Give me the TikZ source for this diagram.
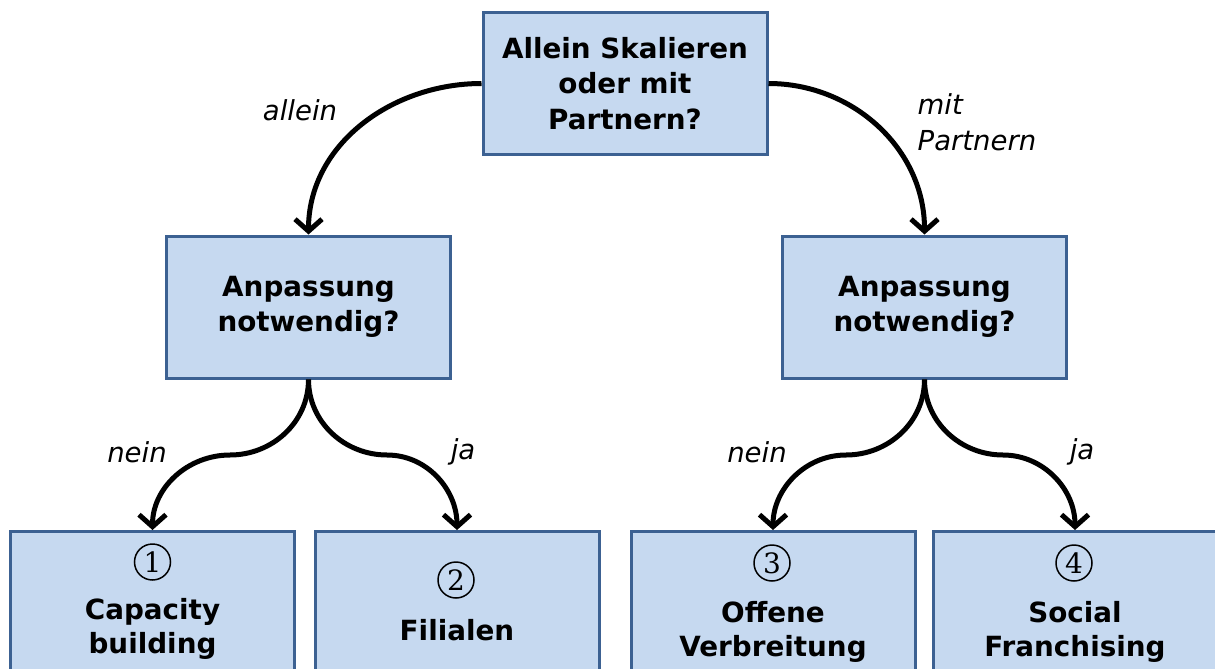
\documentclass[tikz,border=0pt]{standalone}
\usepackage{fontspec}
\setmainfont{DejaVu Sans}
\newfontfamily\numfont{DejaVu Serif}
\usetikzlibrary{arrows.meta}
\definecolor{boxfill}{RGB}{198,217,240}
\definecolor{boxborder}{RGB}{60,97,146}
\begin{document}
\begin{tikzpicture}[x=1pt,y=-1pt,
  box/.style={draw=boxborder, fill=boxfill, line width=3pt, minimum width=284pt, minimum height=142pt, align=center, inner sep=0pt, font=\bfseries\fontsize{27.8}{35.5}\selectfont},
  bottombox/.style={box, minimum height=200pt},
  btext/.style={align=center, font=\bfseries\fontsize{27.8}{34.5}\selectfont},
  lbl/.style={align=left, font=\itshape\fontsize{27.5}{36}\selectfont},
  cnum/.style={circle, draw, line width=1.5pt, minimum size=36pt, inner sep=0pt, font=\numfont\fontsize{28}{28}\selectfont},
  conn/.style={line width=5pt, -{Straight Barb[length=12pt,width=27pt]}}
]
\useasboundingbox (0,0) rectangle (1215,669);
\clip (0,0) rectangle (1215,669);
\node[box] (top) at (625,83.5) {Allein Skalieren\\oder mit\\Partnern?};
\node[box] (ml) at (308.5,307) {Anpassung\\notwendig?};
\node[box] (mr) at (924.5,307) {Anpassung\\notwendig?};
\node[bottombox, anchor=north] (b1) at (152.5,530) {};
\node[bottombox, anchor=north] (b2) at (457,530) {};
\node[bottombox, anchor=north] (b3) at (773,530) {};
\node[bottombox, anchor=north] (b4) at (1075,530) {};
\node[cnum] (n1) at (152.5,562) {1};
\node[cnum] (n2) at (456,580) {2};
\node[cnum] (n3) at (772,563) {3};
\node[cnum] (n4) at (1074,563) {4};
\node[btext] (t1) at (152.5,629) {Capacity\\building};
\node[btext] (t2) at (457,630) {Filialen};
\node[btext] (t3) at (773,632) {Offene\\Verbreitung};
\node[btext] (t4) at (1075,632) {Social\\Franchising};
\coordinate (sl1) at (230,455);
\coordinate (sl2) at (387,455);
\coordinate (sr1) at (846,455);
\coordinate (sr2) at (1003,455);
\draw[conn] (top.west) to[out=180,in=90] (ml.north);
\draw[conn] (top.east) to[out=0,in=90] (mr.north);
\draw[conn] (ml.south) to[out=270,in=0] (sl1) to[out=180,in=90] (b1.north);
\draw[conn] (ml.south) to[out=270,in=180] (sl2) to[out=0,in=90] (b2.north);
\draw[conn] (mr.south) to[out=270,in=0] (sr1) to[out=180,in=90] (b3.north);
\draw[conn] (mr.south) to[out=270,in=180] (sr2) to[out=0,in=90] (b4.north);
\node[lbl] (la) at (300,110) {allein};
\node[lbl] (lm) at (977,122) {mit\\Partnern};
\node[lbl] (ln1) at (137,452) {nein};
\node[lbl] (lj1) at (463,452) {ja};
\node[lbl] (ln2) at (757,452) {nein};
\node[lbl] (lj2) at (1082,452) {ja};
\end{tikzpicture}
\end{document}
